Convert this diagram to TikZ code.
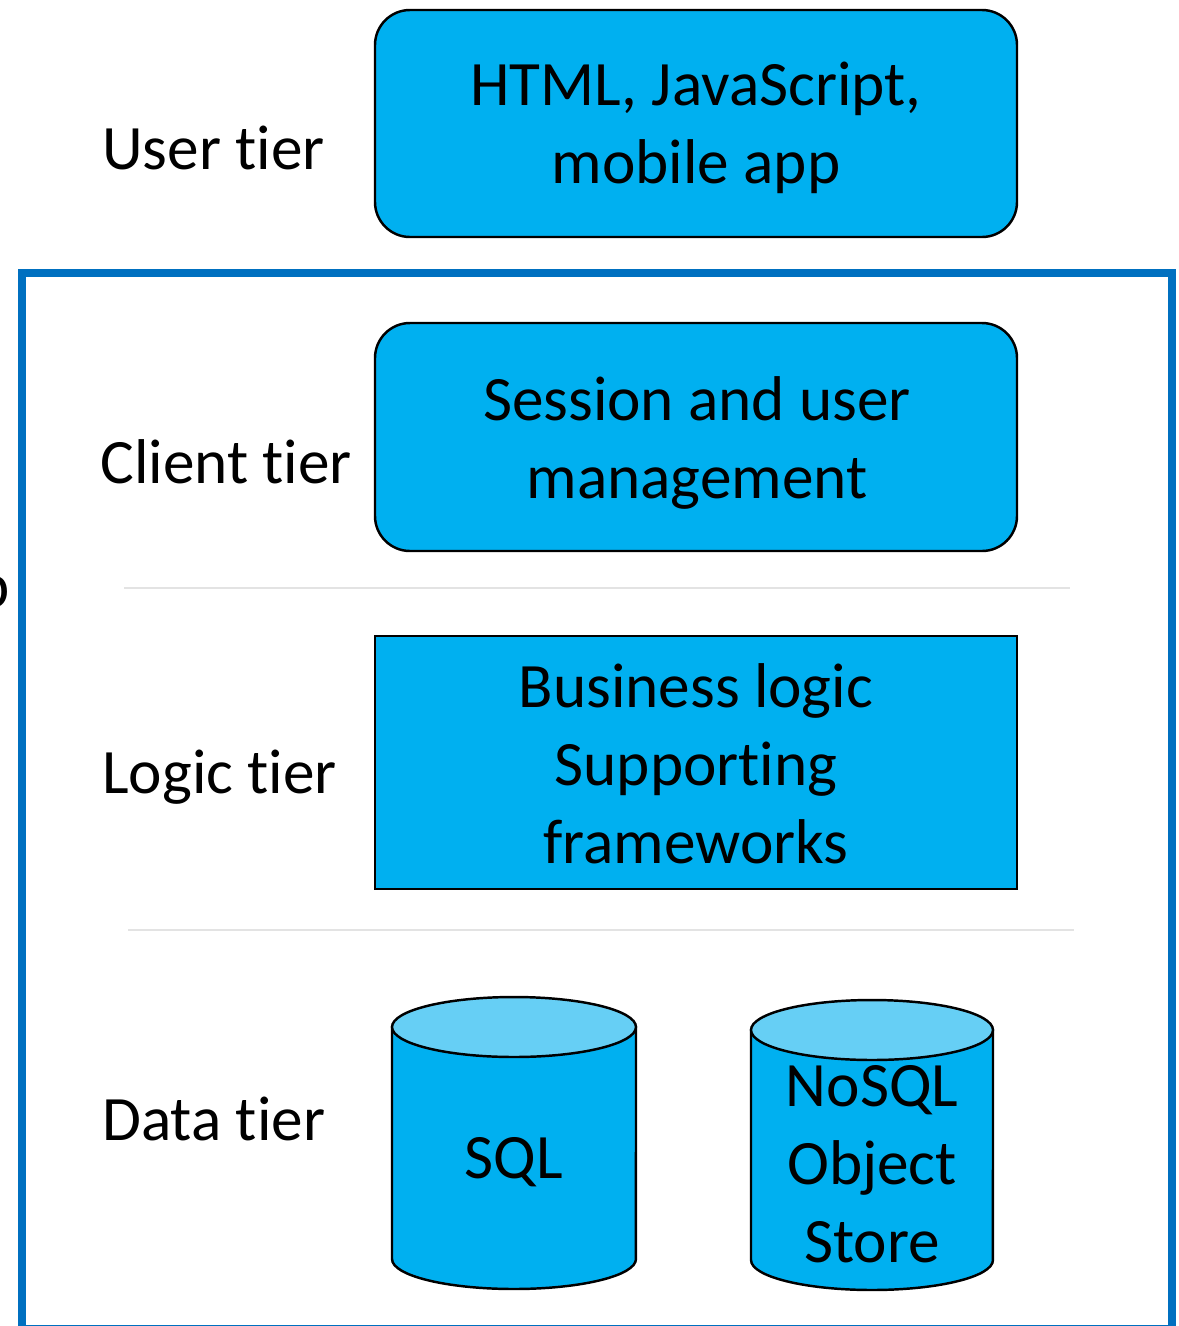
\documentclass[tikz,border=0pt]{standalone}
\usepackage{fontspec}
\setmainfont{Carlito}[Ligatures=NoCommon]
\definecolor{tierfill}{HTML}{00B0F0}
\definecolor{capfill}{HTML}{66CFF5}
\definecolor{framecol}{HTML}{0070C0}
\definecolor{sepcol}{HTML}{E3E3E3}
\begin{document}
\begin{tikzpicture}[x=0.02cm,y=-0.02cm,
  every node/.style={font=\fontsize{36}{44.5}\selectfont, text=black, inner sep=0pt},
  tierbox/.style={draw=black, line width=1.4pt, fill=tierfill},
  roundbox/.style={tierbox, rounded corners=0.7cm},
  tierlabel/.style={anchor=base west},
  boxtext/.style={align=center},
  separator/.style={draw=sepcol, line width=0.045cm},
  frameline/.style={draw=framecol, line width=0.16cm},
  dbbody/.style={fill=tierfill, draw=black, line width=1.4pt},
  dbcap/.style={fill=capfill, draw=black, line width=1.4pt}]
\useasboundingbox (0,0) rectangle (1179,1326);

% outer frame around the server-side tiers
\draw[frameline] (22,273) rectangle (1172,1329);
\node[anchor=base east] (cut) at (10,607) {p};

% separators between tiers
\draw[separator] (124,588) -- (1070,588);
\draw[separator] (128,930) -- (1074,930);

% tier boxes
\draw[roundbox] (375,10) rectangle (1017,237);
\node[boxtext] (user) at (696,128) {HTML, JavaScript,\\mobile app};
\draw[roundbox] (375,323) rectangle (1017,551);
\node[boxtext] (client) at (697,443) {Session and user\\management};
\draw[tierbox] (375,636) rectangle (1017,889);
\node[boxtext] (logic) at (696,764) {Business logic\\Supporting\\frameworks};

% tier labels
\node[tierlabel] (luser) at (102,169) {User tier};
\node[tierlabel] (lclient) at (100,483) {Client tier};
\node[tierlabel] (llogic) at (102,793) {Logic tier};
\node[tierlabel] (ldata) at (102,1140) {Data tier};

% SQL store
\path[dbbody] (392,1027) -- (392,1259)
  arc[start angle=180, end angle=360, x radius=2.44cm, y radius=0.6cm]
  -- (636,1027) -- cycle;
\draw[dbcap] (514,1027) ellipse [x radius=2.44cm, y radius=0.6cm];
\node (sql) at (514,1162) {SQL};

% NoSQL / object store
\path[dbbody] (751,1030) -- (751,1260)
  arc[start angle=180, end angle=360, x radius=2.42cm, y radius=0.6cm]
  -- (993,1030) -- cycle;
\draw[dbcap] (872,1030) ellipse [x radius=2.42cm, y radius=0.6cm];
\node[boxtext] (nosql) at (872,1164) {NoSQL\\Object\\Store};
\end{tikzpicture}
\end{document}
